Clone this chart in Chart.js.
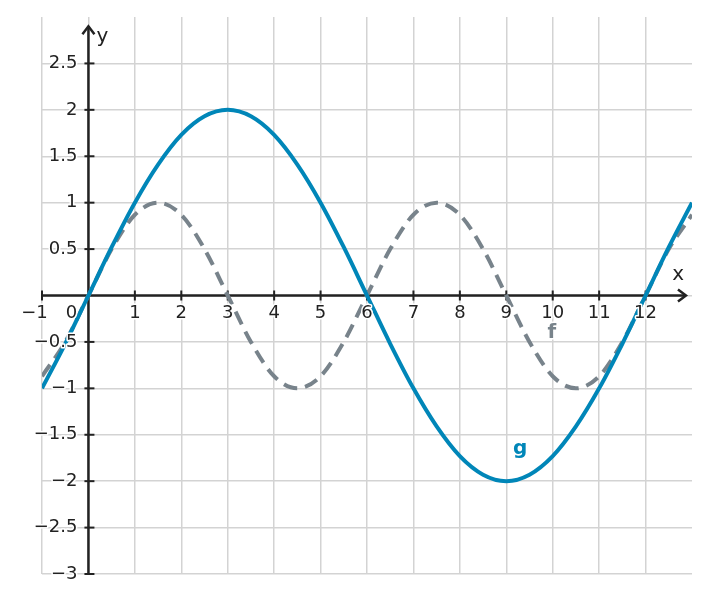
<!DOCTYPE html>
<html>
<head>
<meta charset="utf-8">
<script src="https://cdn.jsdelivr.net/npm/chart.js@4.4.0/dist/chart.umd.min.js"></script>
<style>
  body { margin: 0; background: #fff; }
  #wrap { width: 710px; height: 603px; }
</style>
</head>
<body>
<div id="wrap"><canvas id="chart"></canvas></div>
<script>
// values, every half unit
const xs = [-1, -0.5, 0, 0.5, 1, 1.5, 2, 2.5, 3, 3.5, 4, 4.5, 5, 5.5, 6, 6.5,
            7, 7.5, 8, 8.5, 9, 9.5, 10, 10.5, 11, 11.5, 12, 12.5, 13];
const g_values = [-1, -0.52, 0, 0.52, 1, 1.41, 1.73, 1.93, 2, 1.93, 1.73, 1.41, 1, 0.52, 0, -0.52,
                  -1, -1.41, -1.73, -1.93, -2, -1.93, -1.73, -1.41, -1, -0.52, 0, 0.52, 1];
const f_values = [-0.87, -0.5, 0, 0.5, 0.87, 1, 0.87, 0.5, 0, -0.5, -0.87, -1, -0.87, -0.5, 0, 0.5,
                  0.87, 1, 0.87, 0.5, 0, -0.5, -0.87, -1, -0.87, -0.5, 0, 0.5, 0.87];
const x_tick_labels = [-1, 0, 1, 2, 3, 4, 5, 6, 7, 8, 9, 10, 11, 12];
const y_tick_labels = [-3, -2.5, -2, -1.5, -1, -0.5, 0.5, 1, 1.5, 2, 2.5];

const BLUE = '#0086b8';
const GREY = '#78838b';
const INK = '#222';
const FONT = '"DejaVu Sans", sans-serif';

function pts(ys) {
    return xs.map((x, i) => ({ x: x, y: ys[i] }));
}
function fmt(v) {
    return String(v).replace('-', '\u2212');
}

const axesPlugin = {
    id: 'axes',
    beforeDatasetsDraw(chart) {
        const ctx = chart.ctx;
        const sx = chart.scales.x, sy = chart.scales.y;
        const x0 = sx.getPixelForValue(0), y0 = sy.getPixelForValue(0);
        ctx.save();
        ctx.strokeStyle = INK;
        ctx.lineWidth = 2.5;
        // y axis
        ctx.beginPath();
        ctx.moveTo(x0, sy.getPixelForValue(-3));
        ctx.lineTo(x0, sy.getPixelForValue(2.9));
        ctx.stroke();
        // x axis
        ctx.beginPath();
        ctx.moveTo(sx.getPixelForValue(-1), y0);
        ctx.lineTo(sx.getPixelForValue(12.87), y0);
        ctx.stroke();
        // arrow heads
        const ty = sy.getPixelForValue(2.9), tx = sx.getPixelForValue(12.87);
        ctx.lineWidth = 2.5;
        ctx.beginPath();
        ctx.moveTo(x0 - 6, ty + 8); ctx.lineTo(x0, ty); ctx.lineTo(x0 + 6, ty + 8);
        ctx.stroke();
        ctx.beginPath();
        ctx.moveTo(tx - 8, y0 - 6); ctx.lineTo(tx, y0); ctx.lineTo(tx - 8, y0 + 6);
        ctx.stroke();
        // tick marks
        ctx.lineWidth = 2;
        x_tick_labels.forEach(v => {
            if (v === 0) return;
            const px = sx.getPixelForValue(v);
            ctx.beginPath(); ctx.moveTo(px, y0 - 5); ctx.lineTo(px, y0 + 5); ctx.stroke();
        });
        y_tick_labels.forEach(v => {
            const py = sy.getPixelForValue(v);
            ctx.beginPath(); ctx.moveTo(x0 - 4, py); ctx.lineTo(x0 + 6, py); ctx.stroke();
        });
        ctx.restore();
    },
    afterDatasetsDraw(chart) {
        const ctx = chart.ctx;
        const sx = chart.scales.x, sy = chart.scales.y;
        const x0 = sx.getPixelForValue(0), y0 = sy.getPixelForValue(0);
        ctx.save();
        ctx.font = '18px ' + FONT;
        ctx.textBaseline = 'middle';
        ctx.lineJoin = 'round';
        ctx.strokeStyle = '#fff';
        ctx.lineWidth = 3;
        ctx.fillStyle = INK;
        function label(t, x, y) {
            ctx.strokeText(t, x, y);
            ctx.fillText(t, x, y);
        }
        // x tick labels, digits centred, minus hanging left
        ctx.textAlign = 'left';
        x_tick_labels.forEach(v => {
            if (v === 0) {
                ctx.textAlign = 'center';
                label('0', x0 - 17, y0 + 18);
                ctx.textAlign = 'left';
                return;
            }
            const digits = String(Math.abs(v));
            const w = ctx.measureText(digits).width;
            let t = digits, left = sx.getPixelForValue(v) - w / 2;
            if (v < 0) { t = '\u2212' + digits; left -= ctx.measureText('\u2212').width; }
            label(t, left, y0 + 18);
        });
        // y tick labels
        ctx.textAlign = 'right';
        y_tick_labels.forEach(v => {
            label(fmt(v), x0 - 11, sy.getPixelForValue(v));
        });
        // axis names
        ctx.font = '20px ' + FONT;
        ctx.textAlign = 'center';
        label('y', x0 + 14, sy.getPixelForValue(2.79));
        label('x', sx.getPixelForValue(12.7), y0 - 21);
        // curve names
        ctx.font = 'bold 20px ' + FONT;
        ctx.fillStyle = GREY;
        label('f', sx.getPixelForValue(9.98), sy.getPixelForValue(-0.4));
        ctx.fillStyle = BLUE;
        label('g', sx.getPixelForValue(9.3), sy.getPixelForValue(-1.65));
        ctx.restore();
    }
};

const ctx = document.getElementById('chart').getContext('2d');
const chart = new Chart(ctx, {
    type: 'line',
    data: {
        datasets: [
            {
                label: 'g',
                data: pts(g_values),
                borderColor: BLUE,
                borderWidth: 4,
                pointRadius: 0,
                cubicInterpolationMode: 'monotone',
                fill: false
            },
            {
                label: 'f',
                data: pts(f_values),
                borderColor: GREY,
                borderWidth: 4,
                borderDash: [14, 8],
                borderCapStyle: 'butt',
                pointRadius: 0,
                cubicInterpolationMode: 'monotone',
                fill: false
            }
        ]
    },
    options: {
        responsive: true,
        maintainAspectRatio: false,
        animation: false,
        layout: { padding: { left: 42, right: 18, top: 17, bottom: 29 } },
        plugins: {
            legend: { display: false },
            tooltip: { enabled: false }
        },
        scales: {
            x: {
                type: 'linear',
                min: -1,
                max: 13,
                ticks: { display: false, stepSize: 1 },
                border: { display: false },
                grid: {
                    drawTicks: false,
                    lineWidth: 1.5,
                    color: c => (c.tick && c.tick.value === 13) ? 'rgba(0,0,0,0)' : '#d3d3d3'
                },
                afterFit: s => { s.height = 0; }
            },
            y: {
                type: 'linear',
                min: -3,
                max: 3,
                ticks: { display: false, stepSize: 0.5 },
                border: { display: false },
                grid: {
                    drawTicks: false,
                    lineWidth: 1.5,
                    color: c => (c.tick && c.tick.value === 3) ? 'rgba(0,0,0,0)' : '#d3d3d3'
                },
                afterFit: s => { s.width = 0; }
            }
        }
    },
    plugins: [axesPlugin]
});
</script>
</body>
</html>
